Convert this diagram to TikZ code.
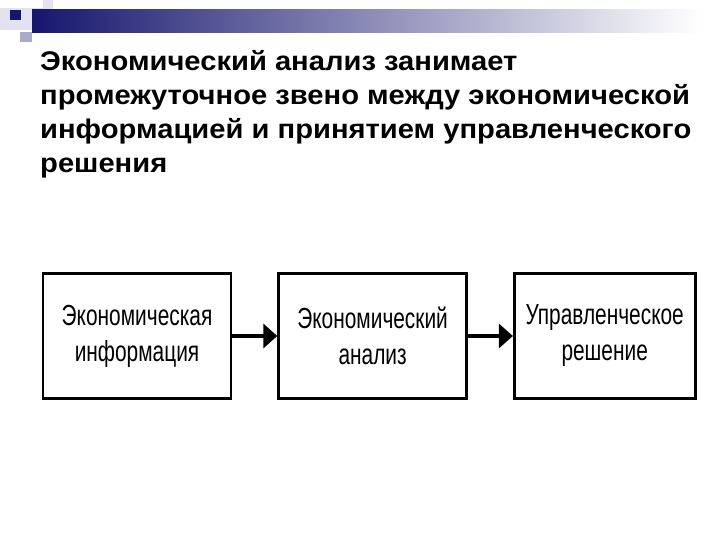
\documentclass[tikz,border=0pt]{standalone}
\usepackage{fontspec}
\setmainfont{Liberation Sans}
\newfontfamily\narrowfont[FakeStretch=0.72]{Liberation Sans}
\newfontfamily\headfont[FakeStretch=1.08]{Liberation Sans}
\usetikzlibrary{arrows.meta, positioning}

\definecolor{bandnavy}{RGB}{22,22,110}
\definecolor{bandmid}{RGB}{190,190,212}
\definecolor{decolight}{RGB}{226,226,240}
\definecolor{decomid}{RGB}{170,170,205}

\tikzset{
  block/.style={draw, line width=2.6pt, minimum width=188pt, minimum height=125pt,
    inner sep=0pt, align=center, font=\narrowfont\fontsize{29}{36}\selectfont},
  flow/.style={line width=3.5pt, -{Triangle[length=14pt, width=24pt]}}
}

\begin{document}
\begin{tikzpicture}[x=1pt, y=-1pt]
    \useasboundingbox (0,0) rectangle (720,540);
    % slide decoration
    \fill[decolight] (0,8) rectangle (43,30);
    \fill[decolight] (43,0) rectangle (53,20);
    \fill[decomid] (20,32) rectangle (32,42);
    \fill[bandnavy] (10,10) rectangle (21,20);
    \shade[left color=bandnavy, middle color=bandmid, right color=white]
        (32,10) rectangle (700,33);
    % heading
    \node[anchor=north west, align=left, inner sep=0pt,
          font=\headfont\bfseries\fontsize{27}{34}\selectfont] (heading) at (40,50)
        {Экономический анализ занимает\\
         промежуточное звено между экономической\\
         информацией и принятием управленческого\\
         решения};
    % chain
    \node[block] (info) at (137,336) {Экономическая\\информация};
    \node[block, right=45pt of info] (analysis) {Экономический\\анализ};
    \node[block, minimum width=181pt, right=45pt of analysis] (decision) {Управленческое\\решение};
    \draw[flow] (info) -- (analysis);
    \draw[flow] (analysis) -- (decision);
\end{tikzpicture}
\end{document}
